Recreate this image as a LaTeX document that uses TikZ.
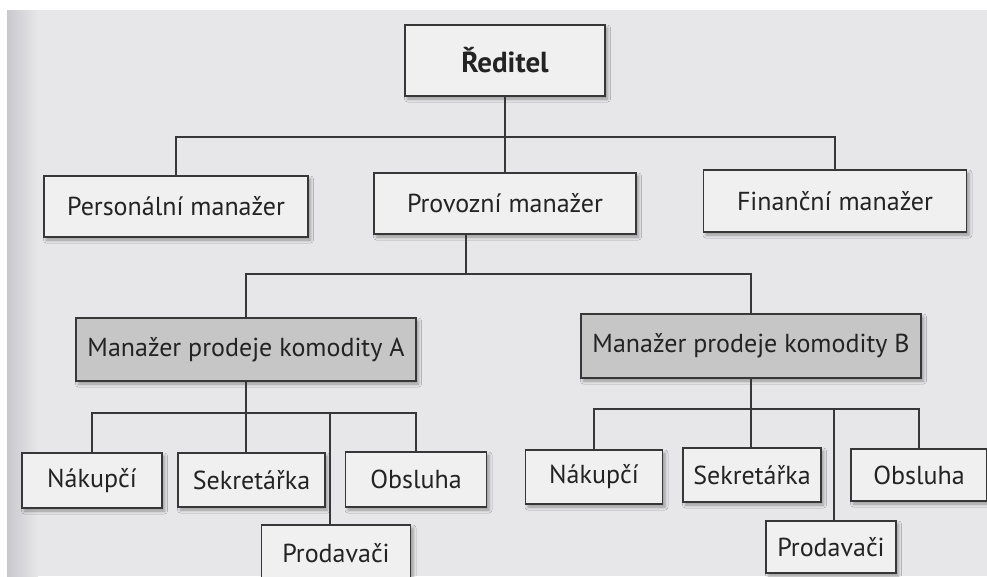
\documentclass[tikz,border=0pt]{standalone}
\usepackage{fontspec}
\setmainfont{PT Sans}
\usetikzlibrary{shadows.blur}
\definecolor{paper}{RGB}{231,231,233}
\definecolor{papershade}{RGB}{200,200,206}
\definecolor{ink}{RGB}{55,55,55}
\definecolor{boxfill}{RGB}{240,240,240}
\definecolor{darkfill}{RGB}{198,198,198}
\definecolor{txt}{RGB}{35,35,35}
\tikzset{
  orgbox/.style={draw=ink, line width=1.8pt, fill=boxfill, text=txt,
    font=\fontsize{26}{29}\selectfont, inner sep=0pt,
    blur shadow={shadow xshift=2.5pt, shadow yshift=-3pt,
      shadow blur radius=3pt, shadow opacity=35}},
  headbox/.style={orgbox, font=\fontsize{29}{32}\selectfont\bfseries},
  salesbox/.style={orgbox, fill=darkfill},
  link/.style={draw=ink, line width=1.4pt}
}
\begin{document}
\begin{tikzpicture}[x=1pt, y=-1pt]
  \useasboundingbox (0,0) rectangle (987,576);
  \clip (0,0) rectangle (987,576);
  % paper and binding shadow
  \fill[white] (0,0) rectangle (987,576);
  \fill[paper] (7,10) rectangle (987,576);
  \shade[left color=papershade, right color=paper] (7,10) rectangle (38,576);

  % top level
  \node[headbox, minimum width=200, minimum height=71] (red) at (505,60.5) {Ředitel};

  % managers
  \node[orgbox, minimum width=264, minimum height=61] (pers) at (176,206.5) {Personální manažer};
  \node[orgbox, minimum width=262, minimum height=61] (prov) at (505,203.5) {Provozní manažer};
  \node[orgbox, minimum width=263, minimum height=62] (fin) at (835,201) {Finanční manažer};

  % commodity sales managers
  \node[salesbox, minimum width=340, minimum height=63] (ka) at (246,349.5) {Manažer prodeje komodity A};
  \node[salesbox, minimum width=340, minimum height=64] (kb) at (751,346) {Manažer prodeje komodity B};

  % staff under A
  \node[orgbox, minimum width=140, minimum height=55] (nakA) at (92,480.5) {Nákupčí};
  \node[orgbox, minimum width=147, minimum height=54] (sekA) at (251.5,480) {Sekretářka};
  \node[orgbox, minimum width=141, minimum height=55] (obsA) at (416,479.5) {Obsluha};
  \node[orgbox, minimum width=149, minimum height=56] (proA) at (336,553) {Prodavači};

  % staff under B
  \node[orgbox, minimum width=137, minimum height=54] (nakB) at (594,477) {Nákupčí};
  \node[orgbox, minimum width=138, minimum height=54] (sekB) at (752,475) {Sekretářka};
  \node[orgbox, minimum width=136, minimum height=52] (obsB) at (919,475) {Obsluha};
  \node[orgbox, minimum width=130, minimum height=52] (proB) at (831,547) {Prodavači};

  % bus coordinates
  \coordinate (busTop) at (505,137);
  \coordinate (busMid) at (466,274);
  \coordinate (busA) at (246,413);
  \coordinate (dropA) at (330,413);
  \coordinate (busB) at (751,409);
  \coordinate (dropB) at (834,409);

  % connectors
  \draw[link] (red.south) -- (prov.north);
  \draw[link] (pers.north) |- (busTop) -| (fin.north);
  \draw[link] (busMid |- prov.south) -- (busMid);
  \draw[link] (ka.north) |- (busMid) -| (kb.north);

  \draw[link] (ka.south) -- (ka.south |- sekA.north);
  \draw[link] (nakA.north) |- (busA) -| (obsA.north);
  \draw[link] (dropA) -- (dropA |- proA.north);

  \draw[link] (kb.south) -- (kb.south |- sekB.north);
  \draw[link] (nakB.north) |- (busB) -| (obsB.north);
  \draw[link] (dropB) -- (dropB |- proB.north);
\end{tikzpicture}
\end{document}
